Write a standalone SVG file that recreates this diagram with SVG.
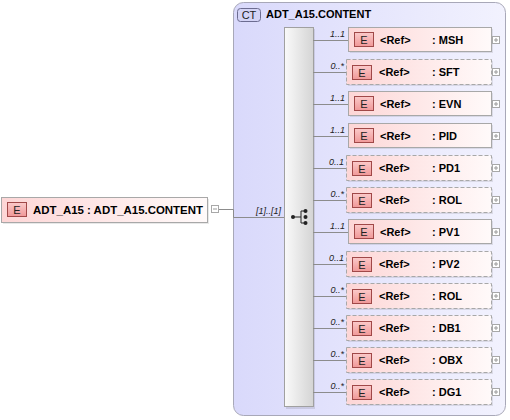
<svg xmlns="http://www.w3.org/2000/svg" width="510" height="420" viewBox="0 0 510 420">
<defs>
<linearGradient id="gCT" x1="0" y1="0" x2="1" y2="0">
<stop offset="0" stop-color="#d9d9fb"/>
<stop offset="1" stop-color="#f2f2fe"/>
</linearGradient>
<linearGradient id="gBar" x1="0" y1="0" x2="1" y2="0">
<stop offset="0" stop-color="#fafafa"/>
<stop offset="1" stop-color="#d4d4d4"/>
</linearGradient>
<linearGradient id="gEl" x1="0" y1="0" x2="1" y2="0">
<stop offset="0" stop-color="#fdd6d6"/>
<stop offset="1" stop-color="#fffafa"/>
</linearGradient>
<linearGradient id="gE" x1="0" y1="0" x2="0" y2="1">
<stop offset="0" stop-color="#fbcaca"/>
<stop offset="1" stop-color="#f09898"/>
</linearGradient>
</defs>
<style>
.txt{font-family:"Liberation Sans",Arial,sans-serif;font-weight:bold;font-size:11px;fill:#000}
.badge{font-family:"Liberation Sans",Arial,sans-serif;font-size:11px;fill:#222;text-anchor:middle}
.card{font-family:"Liberation Sans",Arial,sans-serif;font-style:italic;font-size:9px;fill:#222;text-anchor:end}
.el{fill:url(#gEl);stroke:#a8a8a8;stroke-width:1}
.opt{fill:url(#gEl);stroke:#a8a8a8;stroke-width:1;stroke-dasharray:4,2}
.shadow{fill:#000;fill-opacity:0.09}
.eb{fill:url(#gE);stroke:#a04848;stroke-width:1}
.pm{fill:#fff;stroke:#a8a8a8;stroke-width:1}
.pms{stroke:#999;stroke-width:1}
.conn{stroke:#8c8c8c;stroke-width:1;fill:none}
</style>

<g id="ct-container">
<rect x="233.5" y="2.5" width="272" height="413" rx="10" ry="10" fill="url(#gCT)" stroke="#a8a8b8"/>
<rect x="237.5" y="8.5" width="23" height="13" rx="3" ry="3" fill="#d4d4f6" stroke="#6c6c90"/>
<text class="badge" x="249" y="19" font-size="10">CT</text>
<text class="txt" x="266" y="18">ADT_A15.CONTENT</text>
</g>

<g id="sequence">
<rect x="286" y="29" width="29" height="380" fill="#000" fill-opacity="0.1"/>
<rect x="284.5" y="27.5" width="29" height="379" fill="url(#gBar)" stroke="#a0a0a0"/>
<g fill="#222" stroke="#222" stroke-width="1">
<line x1="293" y1="217" x2="301" y2="217"/>
<line x1="301" y1="211" x2="301" y2="223"/>
<line x1="301" y1="211" x2="305" y2="211"/>
<line x1="301" y1="223" x2="305" y2="223"/>
<circle cx="293" cy="217" r="2" stroke="none"/>
<circle cx="305.5" cy="211" r="2" stroke="none"/>
<circle cx="305.5" cy="217" r="2" stroke="none"/>
<circle cx="305.5" cy="223" r="2" stroke="none"/>
</g>
</g>

<g id="connectors">
<polyline class="conn" points="219,209.5 233.5,209.5 233.5,217.5 284,217.5"/>
<text class="card" x="281" y="214">[1]..[1]</text>
<g class="conn">
<line x1="313" y1="40.5" x2="348" y2="40.5"/>
<line x1="313" y1="72.5" x2="347" y2="72.5"/>
<line x1="313" y1="104.5" x2="348" y2="104.5"/>
<line x1="313" y1="136.5" x2="348" y2="136.5"/>
<line x1="313" y1="168.5" x2="347" y2="168.5"/>
<line x1="313" y1="200.5" x2="347" y2="200.5"/>
<line x1="313" y1="232.5" x2="348" y2="232.5"/>
<line x1="313" y1="264.5" x2="347" y2="264.5"/>
<line x1="313" y1="296.5" x2="347" y2="296.5"/>
<line x1="313" y1="328.5" x2="347" y2="328.5"/>
<line x1="313" y1="360.5" x2="347" y2="360.5"/>
<line x1="313" y1="392.5" x2="347" y2="392.5"/>
</g>
<text class="card" x="345" y="37">1..1</text>
<text class="card" x="344" y="69">0..*</text>
<text class="card" x="345" y="101">1..1</text>
<text class="card" x="345" y="133">1..1</text>
<text class="card" x="344" y="165">0..1</text>
<text class="card" x="344" y="197">0..*</text>
<text class="card" x="345" y="229">1..1</text>
<text class="card" x="344" y="261">0..1</text>
<text class="card" x="344" y="293">0..*</text>
<text class="card" x="344" y="325">0..*</text>
<text class="card" x="344" y="357">0..*</text>
<text class="card" x="344" y="389">0..*</text>
</g>

<g id="root-element">
<rect class="shadow" x="3" y="199" width="206" height="25"/>
<rect class="el" x="1.5" y="197.5" width="206" height="25"/>
<rect class="eb" x="7.5" y="202.5" width="19" height="14"/>
<text class="badge" x="17" y="213.5">E</text>
<text class="txt" x="33" y="214" textLength="170" lengthAdjust="spacingAndGlyphs">ADT_A15 : ADT_A15.CONTENT</text>
<rect class="pm" x="211.5" y="205.5" width="7" height="7"/>
<line class="pms" x1="213" y1="209" x2="217" y2="209"/>
</g>

<g id="n-msh" transform="translate(0,0)">
<rect class="shadow" x="350" y="29" width="143" height="24"/>
<rect class="el" x="348.5" y="27.5" width="143" height="24"/>
<rect class="eb" x="354.5" y="32.5" width="19" height="14"/>
<text class="badge" x="364" y="43.5">E</text>
<text class="txt" x="380" y="44">&lt;Ref&gt;</text>
<text class="txt" x="432" y="44">: MSH</text>
<rect class="pm" x="492.5" y="36.5" width="7" height="7"/>
<line class="pms" x1="494" y1="40" x2="498" y2="40"/><line class="pms" x1="496" y1="38" x2="496" y2="42"/>
</g>

<g id="n-sft" transform="translate(0,32)">
<rect class="shadow" x="348" y="29" width="145" height="25"/>
<rect class="opt" x="346.5" y="27.5" width="145" height="25"/>
<rect class="eb" x="352.5" y="33.5" width="19" height="14"/>
<text class="badge" x="362" y="44.5">E</text>
<text class="txt" x="379" y="44">&lt;Ref&gt;</text>
<text class="txt" x="432" y="44">: SFT</text>
<rect class="pm" x="492.5" y="36.5" width="7" height="7"/>
<line class="pms" x1="494" y1="40" x2="498" y2="40"/><line class="pms" x1="496" y1="38" x2="496" y2="42"/>
</g>

<g id="n-evn" transform="translate(0,64)">
<rect class="shadow" x="350" y="29" width="143" height="24"/>
<rect class="el" x="348.5" y="27.5" width="143" height="24"/>
<rect class="eb" x="354.5" y="32.5" width="19" height="14"/>
<text class="badge" x="364" y="43.5">E</text>
<text class="txt" x="380" y="44">&lt;Ref&gt;</text>
<text class="txt" x="432" y="44">: EVN</text>
<rect class="pm" x="492.5" y="36.5" width="7" height="7"/>
<line class="pms" x1="494" y1="40" x2="498" y2="40"/><line class="pms" x1="496" y1="38" x2="496" y2="42"/>
</g>

<g id="n-pid" transform="translate(0,96)">
<rect class="shadow" x="350" y="29" width="143" height="24"/>
<rect class="el" x="348.5" y="27.5" width="143" height="24"/>
<rect class="eb" x="354.5" y="32.5" width="19" height="14"/>
<text class="badge" x="364" y="43.5">E</text>
<text class="txt" x="380" y="44">&lt;Ref&gt;</text>
<text class="txt" x="432" y="44">: PID</text>
<rect class="pm" x="492.5" y="36.5" width="7" height="7"/>
<line class="pms" x1="494" y1="40" x2="498" y2="40"/><line class="pms" x1="496" y1="38" x2="496" y2="42"/>
</g>

<g id="n-pd1" transform="translate(0,128)">
<rect class="shadow" x="348" y="29" width="145" height="25"/>
<rect class="opt" x="346.5" y="27.5" width="145" height="25"/>
<rect class="eb" x="352.5" y="33.5" width="19" height="14"/>
<text class="badge" x="362" y="44.5">E</text>
<text class="txt" x="379" y="44">&lt;Ref&gt;</text>
<text class="txt" x="432" y="44">: PD1</text>
<rect class="pm" x="492.5" y="36.5" width="7" height="7"/>
<line class="pms" x1="494" y1="40" x2="498" y2="40"/><line class="pms" x1="496" y1="38" x2="496" y2="42"/>
</g>

<g id="n-rol-1" transform="translate(0,160)">
<rect class="shadow" x="348" y="29" width="145" height="25"/>
<rect class="opt" x="346.5" y="27.5" width="145" height="25"/>
<rect class="eb" x="352.5" y="33.5" width="19" height="14"/>
<text class="badge" x="362" y="44.5">E</text>
<text class="txt" x="379" y="44">&lt;Ref&gt;</text>
<text class="txt" x="432" y="44">: ROL</text>
<rect class="pm" x="492.5" y="36.5" width="7" height="7"/>
<line class="pms" x1="494" y1="40" x2="498" y2="40"/><line class="pms" x1="496" y1="38" x2="496" y2="42"/>
</g>

<g id="n-pv1" transform="translate(0,192)">
<rect class="shadow" x="350" y="29" width="143" height="24"/>
<rect class="el" x="348.5" y="27.5" width="143" height="24"/>
<rect class="eb" x="354.5" y="32.5" width="19" height="14"/>
<text class="badge" x="364" y="43.5">E</text>
<text class="txt" x="380" y="44">&lt;Ref&gt;</text>
<text class="txt" x="432" y="44">: PV1</text>
<rect class="pm" x="492.5" y="36.5" width="7" height="7"/>
<line class="pms" x1="494" y1="40" x2="498" y2="40"/><line class="pms" x1="496" y1="38" x2="496" y2="42"/>
</g>

<g id="n-pv2" transform="translate(0,224)">
<rect class="shadow" x="348" y="29" width="145" height="25"/>
<rect class="opt" x="346.5" y="27.5" width="145" height="25"/>
<rect class="eb" x="352.5" y="33.5" width="19" height="14"/>
<text class="badge" x="362" y="44.5">E</text>
<text class="txt" x="379" y="44">&lt;Ref&gt;</text>
<text class="txt" x="432" y="44">: PV2</text>
<rect class="pm" x="492.5" y="36.5" width="7" height="7"/>
<line class="pms" x1="494" y1="40" x2="498" y2="40"/><line class="pms" x1="496" y1="38" x2="496" y2="42"/>
</g>

<g id="n-rol-2" transform="translate(0,256)">
<rect class="shadow" x="348" y="29" width="145" height="25"/>
<rect class="opt" x="346.5" y="27.5" width="145" height="25"/>
<rect class="eb" x="352.5" y="33.5" width="19" height="14"/>
<text class="badge" x="362" y="44.5">E</text>
<text class="txt" x="379" y="44">&lt;Ref&gt;</text>
<text class="txt" x="432" y="44">: ROL</text>
<rect class="pm" x="492.5" y="36.5" width="7" height="7"/>
<line class="pms" x1="494" y1="40" x2="498" y2="40"/><line class="pms" x1="496" y1="38" x2="496" y2="42"/>
</g>

<g id="n-db1" transform="translate(0,288)">
<rect class="shadow" x="348" y="29" width="145" height="25"/>
<rect class="opt" x="346.5" y="27.5" width="145" height="25"/>
<rect class="eb" x="352.5" y="33.5" width="19" height="14"/>
<text class="badge" x="362" y="44.5">E</text>
<text class="txt" x="379" y="44">&lt;Ref&gt;</text>
<text class="txt" x="432" y="44">: DB1</text>
<rect class="pm" x="492.5" y="36.5" width="7" height="7"/>
<line class="pms" x1="494" y1="40" x2="498" y2="40"/><line class="pms" x1="496" y1="38" x2="496" y2="42"/>
</g>

<g id="n-obx" transform="translate(0,320)">
<rect class="shadow" x="348" y="29" width="145" height="25"/>
<rect class="opt" x="346.5" y="27.5" width="145" height="25"/>
<rect class="eb" x="352.5" y="33.5" width="19" height="14"/>
<text class="badge" x="362" y="44.5">E</text>
<text class="txt" x="379" y="44">&lt;Ref&gt;</text>
<text class="txt" x="432" y="44">: OBX</text>
<rect class="pm" x="492.5" y="36.5" width="7" height="7"/>
<line class="pms" x1="494" y1="40" x2="498" y2="40"/><line class="pms" x1="496" y1="38" x2="496" y2="42"/>
</g>

<g id="n-dg1" transform="translate(0,352)">
<rect class="shadow" x="348" y="29" width="145" height="25"/>
<rect class="opt" x="346.5" y="27.5" width="145" height="25"/>
<rect class="eb" x="352.5" y="33.5" width="19" height="14"/>
<text class="badge" x="362" y="44.5">E</text>
<text class="txt" x="379" y="44">&lt;Ref&gt;</text>
<text class="txt" x="432" y="44">: DG1</text>
<rect class="pm" x="492.5" y="36.5" width="7" height="7"/>
<line class="pms" x1="494" y1="40" x2="498" y2="40"/><line class="pms" x1="496" y1="38" x2="496" y2="42"/>
</g>
</svg>
